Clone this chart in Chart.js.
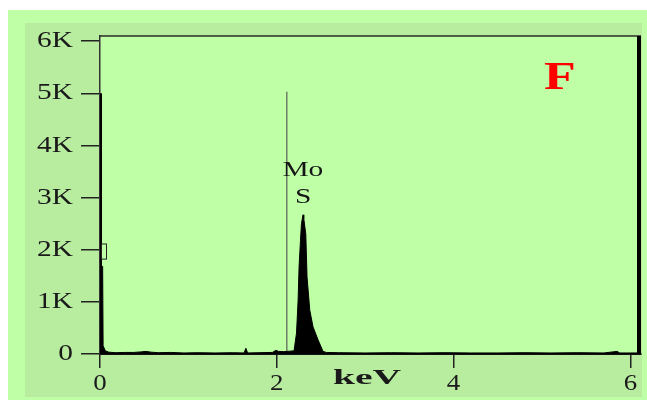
<!DOCTYPE html>
<html>
<head>
<meta charset="utf-8">
<script src="https://cdn.jsdelivr.net/npm/chart.js@4"></script>
<style>
  html, body { margin: 0; padding: 0; background: #fff; }
  #wrap { width: 647px; height: 400px; }
</style>
</head>
<body>
<div id="wrap"><canvas id="eds"></canvas></div>
<script>
// spectrum (keV vs counts)
const energy = [0, 0.012, 0.03, 0.035, 0.06, 0.1, 0.18, 0.28, 0.38, 0.46, 0.52, 0.58, 0.66, 0.8, 0.95, 1.1, 1.3, 1.5, 1.63, 1.65, 1.67, 1.8, 1.95, 1.99, 2.02, 2.08, 2.15, 2.195, 2.223, 2.241, 2.252, 2.268, 2.279, 2.297, 2.305, 2.328, 2.342, 2.373, 2.41, 2.467, 2.523, 2.56, 2.7, 3.0, 3.3, 3.6, 3.9, 4.2, 4.5, 4.8, 5.1, 5.4, 5.7, 5.85, 5.88, 6.0, 6.12];
const counts = [5000, 1680, 1680, 160, 60, 35, 25, 30, 30, 40, 50, 35, 25, 30, 20, 25, 20, 25, 20, 110, 20, 25, 30, 70, 50, 45, 55, 60, 400, 1030, 1670, 2180, 2500, 2670, 2600, 2300, 1480, 840, 520, 270, 50, 30, 25, 20, 25, 20, 25, 20, 20, 25, 20, 25, 20, 50, 20, 20, 20];
const yTicks = [0, 1000, 2000, 3000, 4000, 5000, 6000];
const xTicks = [0, 2, 4, 6];
const markerLines = [{ x: 0.0, y: 5000 }, { x: 2.113, y: 5030 }];
const peakLabels = [{ x: 2.295, y: 3520, text: 'Mo' }, { x: 2.3, y: 3010, text: 'S' }];

const serif = '"Liberation Serif", "DejaVu Serif", serif';

// text in the source picture is stretched sideways
function wideText(ctx, text, x, y, font, sx, align) {
    ctx.save();
    ctx.font = font;
    ctx.textAlign = align;
    ctx.textBaseline = 'middle';
    ctx.translate(x, y);
    ctx.scale(sx, 1);
    ctx.fillText(text, 0, 0);
    ctx.restore();
}

const backdrop = {
    id: 'backdrop',
    beforeDraw(chart) {
        const ctx = chart.ctx, a = chart.chartArea;
        ctx.save();
        ctx.fillStyle = '#ffffff';
        ctx.fillRect(0, 0, chart.width, chart.height);
        ctx.fillStyle = '#bfffa6';
        ctx.fillRect(8, 10, chart.width - 8, chart.height - 10);
        ctx.fillStyle = '#b8eda0';
        ctx.fillRect(25, 23, 617, 374);
        ctx.fillStyle = '#bfffa6';
        ctx.fillRect(a.left, a.top, a.right - a.left, a.bottom - a.top);
        // element marker line
        const xs = chart.scales.x, ys = chart.scales.y;
        ctx.strokeStyle = '#6f7f66';
        ctx.lineWidth = 1.5;
        const m = markerLines[1];
        ctx.beginPath();
        ctx.moveTo(xs.getPixelForValue(m.x), ys.getPixelForValue(m.y));
        ctx.lineTo(xs.getPixelForValue(m.x), a.bottom);
        ctx.stroke();
        ctx.restore();
    },
    afterDraw(chart) {
        const ctx = chart.ctx, a = chart.chartArea;
        const xs = chart.scales.x, ys = chart.scales.y;
        ctx.save();
        // frame
        ctx.strokeStyle = '#2a2a2a';
        ctx.lineWidth = 1.5;
        ctx.beginPath();
        ctx.moveTo(a.left, a.top);
        ctx.lineTo(a.right, a.top);
        ctx.stroke();
        ctx.strokeStyle = '#000';
        ctx.lineWidth = 4;
        ctx.beginPath();
        ctx.moveTo(a.right - 2, a.top);
        ctx.lineTo(a.right - 2, a.bottom);
        ctx.stroke();
        // zero peak line up to 5K
        const m0 = markerLines[0];
        ctx.lineWidth = 2;
        ctx.beginPath();
        ctx.moveTo(xs.getPixelForValue(m0.x) + 1, ys.getPixelForValue(m0.y));
        ctx.lineTo(xs.getPixelForValue(m0.x) + 1, a.bottom);
        ctx.stroke();
        // small marker box near 2K
        ctx.strokeStyle = '#222';
        ctx.lineWidth = 1;
        ctx.strokeRect(101.5, ys.getPixelForValue(2120) + 0.5, 5, ys.getPixelForValue(1830) - ys.getPixelForValue(2120));

        // tick labels
        ctx.fillStyle = '#1a1a1a';
        yTicks.forEach(v => {
            const lbl = v === 0 ? '0' : (v / 1000) + 'K';
            wideText(ctx, lbl, 73, ys.getPixelForValue(v), '23px ' + serif, 1.28, 'right');
        });
        xTicks.forEach(v => {
            wideText(ctx, String(v), xs.getPixelForValue(v), 384, '24px ' + serif, 1.12, 'center');
        });
        // peak labels
        ctx.fillStyle = '#151515';
        peakLabels.forEach(p => {
            wideText(ctx, p.text, xs.getPixelForValue(p.x), ys.getPixelForValue(p.y), '22px ' + serif, 1.34, 'center');
        });
        // axis unit
        ctx.fillStyle = '#1a1a1a';
        wideText(ctx, 'keV', 367, 378, 'bold 22px ' + serif, 1.8, 'center');
        // panel letter
        ctx.fillStyle = '#ff0000';
        wideText(ctx, 'F', 560, 79, 'bold 40px ' + serif, 1.3, 'center');
        ctx.restore();
    }
};

const points = energy.map((e, i) => ({ x: e, y: counts[i] }));

new Chart(document.getElementById('eds'), {
    type: 'line',
    data: {
        datasets: [{
            label: 'EDS',
            data: points,
            borderColor: '#000',
            backgroundColor: '#000',
            borderWidth: 1,
            pointRadius: 0,
            tension: 0,
            fill: 'origin'
        }]
    },
    options: {
        responsive: true,
        maintainAspectRatio: false,
        animation: false,
        layout: { padding: { top: 36, right: 6, left: 0, bottom: 0 } },
        plugins: { legend: { display: false }, tooltip: { enabled: false } },
        scales: {
            x: {
                type: 'linear',
                min: 0,
                max: 6.12,
                afterFit(scale) { scale.height = 46; },
                afterBuildTicks(scale) { scale.ticks = xTicks.map(v => ({ value: v })); },
                ticks: { display: false },
                grid: { drawOnChartArea: false, drawTicks: true, tickLength: 14, color: '#222', lineWidth: 1.5 },
                border: { color: '#111', width: 2 }
            },
            y: {
                min: 0,
                max: 6100,
                afterFit(scale) { scale.width = 100; },
                afterBuildTicks(scale) { scale.ticks = yTicks.map(v => ({ value: v })); },
                ticks: { display: false },
                grid: { drawOnChartArea: false, drawTicks: true, tickLength: 19, color: '#222', lineWidth: 1.5 },
                border: { color: '#333', width: 1.5 }
            }
        }
    },
    plugins: [backdrop]
});
</script>
</body>
</html>
